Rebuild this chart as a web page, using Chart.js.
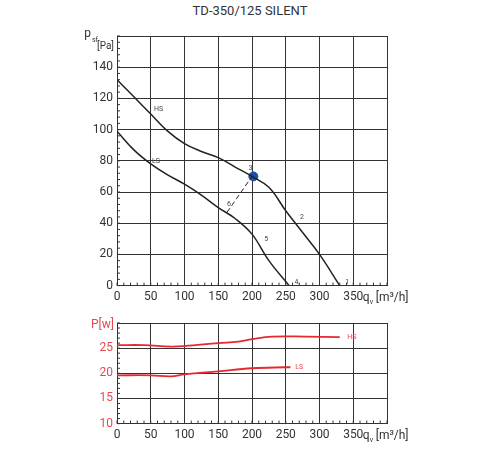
<!DOCTYPE html><html><head><meta charset="utf-8">
<script src="https://cdn.jsdelivr.net/npm/chart.js@4"></script>
<style>body{margin:0;width:500px;height:450px;background:#fff;position:relative;font-family:Roboto}
#t{position:absolute;left:0;width:500px;top:3px;text-align:center;font-size:13px;color:#333}
canvas{position:absolute;left:0}</style></head><body>
<div id="t">TD-350/125 SILENT</div>
<div style="position:absolute;left:0;top:18px;width:500px;height:290px"><canvas id="c1"></canvas></div>
<div style="position:absolute;left:0;top:308px;width:500px;height:142px"><canvas id="c2"></canvas></div>
<script>
const hsPressureQ=[0,25,50,75,100,125,150,175,200,225,250,275,300,330];
const hsPressure=[132,121,110,99,91,86,82,76,70,63,48,34,20,0];
const lsPressureQ=[0,25,50,75,100,125,150,175,200,225,255];
const lsPressure=[99,87,78,71,65,58,50,43,33,16,0];
const dashQ=[163,200];const dashP=[47,70];
const pointQ=[202];const pointP=[70];
const hsPowerQ=[0,40,80,100,150,180,200,230,280,330];
const hsPower=[25.6,25.6,25.3,25.4,26,26.3,26.8,27.3,27.3,27.2];
const lsPowerQ=[0,50,80,100,150,200,250,257];
const lsPower=[19.6,19.6,19.4,19.8,20.4,21,21.2,21.2];
const xTicks=[0,50,100,150,200,250,300,350];
const topLabels=[["HS",52,113],["LS",49,80],["3",192,75],["2",268,44],["6",160,52],["5",215,30],["4",260,2],["1",335,2]];
const botLabels=[["HS",338,27.2],["LS",261,21.2]];
const pts=(q,v)=>q.map((x,i)=>({x,y:v[i]}));
const font={family:'Roboto',size:12};
function overlay(labels,color,ylab){return{id:'ov',afterDraw(ch){const c=ch.ctx,x=ch.scales.x,y=ch.scales.y;c.save();
c.font='7px Roboto';c.fillStyle=color;c.textBaseline='middle';
labels.forEach(([t,a,b])=>c.fillText(t,x.getPixelForValue(a)+2,y.getPixelForValue(b)));
// minor ticks
c.strokeStyle='#333';c.lineWidth=1;for(let v=0;v<=400;v+=10){const px=x.getPixelForValue(v);c.beginPath();c.moveTo(px,y.bottom);c.lineTo(px,y.bottom-3);c.stroke();}
const yr=y.max-y.min,st=ylab==='P'?1:4;for(let v=y.min;v<=y.max;v+=st){const py=y.getPixelForValue(v);c.beginPath();c.moveTo(x.left,py);c.lineTo(x.left+3,py);c.stroke();}
c.font='12px Roboto';c.fillStyle='#333';c.textBaseline='top';const bx=x.getPixelForValue(364),by=y.bottom+6;
c.fillText('q',bx,by);c.font='7px Roboto';c.fillText('v',bx+7,by+7);c.font='12px Roboto';c.fillText('[m³/h]',bx+13,by);
c.textAlign='right';
if(ylab==='P'){c.fillStyle='#e8484f';c.font='12px Roboto';c.fillText('P[w]',x.left-3,y.top-4);}
else{c.fillText('p',x.left-26,y.top-8);c.font='7px Roboto';c.fillText('sf',x.left-19,y.top+1);c.font='10px Roboto';c.fillText('[Pa]',x.left-3,y.top+5);}
c.restore();}}}
const xScale={type:'linear',min:0,max:400,afterBuildTicks:s=>{s.ticks=[0,50,100,150,200,250,300,350,400].map(v=>({value:v}))},
ticks:{font,color:'#333',callback:v=>xTicks.includes(v)?v:'',maxRotation:0,padding:4},grid:{color:'#333',lineWidth:1,drawTicks:false},border:{color:'#333'}};
new Chart(c1,{type:'scatter',data:{datasets:[
{data:pts(hsPressureQ,hsPressure),showLine:true,borderColor:'#222',borderWidth:1.5,pointRadius:0,tension:0.4},
{data:pts(lsPressureQ,lsPressure),showLine:true,borderColor:'#222',borderWidth:1.5,pointRadius:0,tension:0.4},
{data:pts(dashQ,dashP),showLine:true,borderColor:'#222',borderWidth:1,borderDash:[5,3],pointRadius:0},
{data:pts(pointQ,pointP),pointRadius:4.5,backgroundColor:'#1a4fb0',borderColor:'#1a4fb0'}]},
options:{animation:false,responsive:true,maintainAspectRatio:false,layout:{padding:{left:0,right:113,top:18,bottom:0}},
plugins:{legend:{display:false},tooltip:{enabled:false}},
scales:{x:xScale,y:{min:0,max:160,afterFit:s=>{s.width=117},afterBuildTicks:s=>{s.ticks=[0,20,40,60,80,100,120,140,160].map(v=>({value:v}))},
ticks:{font,color:'#333',callback:v=>v===160?'':v,padding:4},grid:{color:'#333',drawTicks:false},border:{color:'#333'}}}},
plugins:[overlay(topLabels,'#444','p')]});
new Chart(c2,{type:'scatter',data:{datasets:[
{data:pts(hsPowerQ,hsPower),showLine:true,borderColor:'#e8282f',borderWidth:1.8,pointRadius:0,tension:0.4},
{data:pts(lsPowerQ,lsPower),showLine:true,borderColor:'#e8282f',borderWidth:1.8,pointRadius:0,tension:0.4}]},
options:{animation:false,responsive:true,maintainAspectRatio:false,layout:{padding:{left:0,right:113,top:15,bottom:4}},
plugins:{legend:{display:false},tooltip:{enabled:false}},
scales:{x:xScale,y:{min:10,max:30,afterFit:s=>{s.width=117},afterBuildTicks:s=>{s.ticks=[10,15,20,25,30].map(v=>({value:v}))},
ticks:{font,color:'#e8484f',callback:v=>v===30?'':v,padding:4},grid:{color:'#333',drawTicks:false},border:{color:'#333'}}}},
plugins:[overlay(botLabels,'#e8484f','P')]});
</script></body></html>
